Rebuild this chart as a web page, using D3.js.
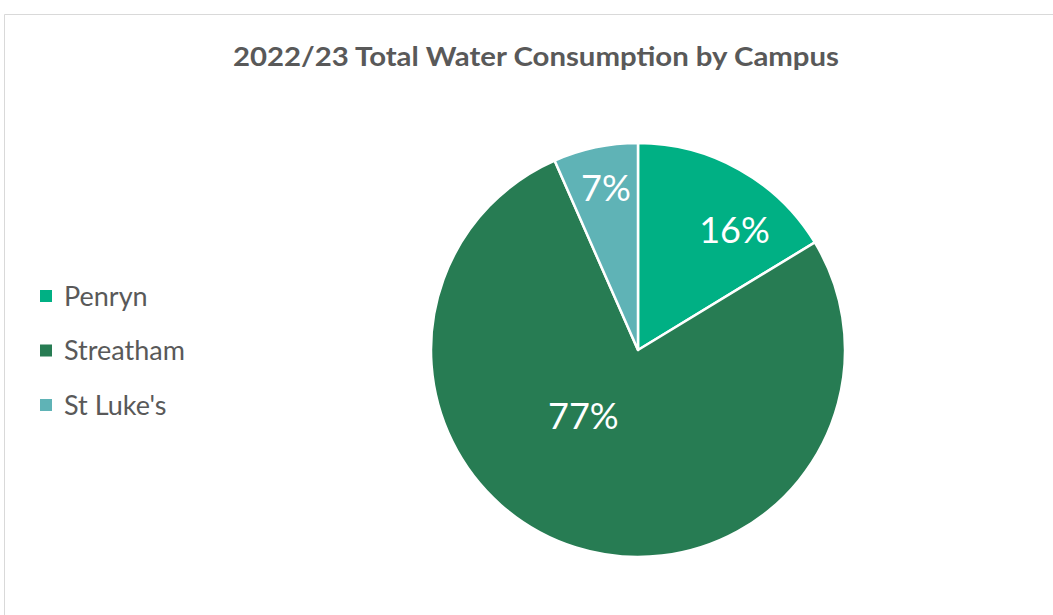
<!DOCTYPE html>
<html><head><meta charset="utf-8">
<script src="https://cdn.jsdelivr.net/npm/d3@7"></script>
<style>
html,body{margin:0;padding:0;background:#fff;}
svg{display:block;}
text{font-family:Lato,"Open Sans",sans-serif;}
</style></head>
<body>
<svg id="c" width="1053" height="615"></svg>
<script>
const title = "2022/23 Total Water Consumption by Campus";
const categories = ["Penryn", "Streatham", "St Luke's"];
const values = [16.3, 77.1, 6.6];
const colors = ["#00b084", "#277c53", "#5fb3b6"];

const svg = d3.select("#c");
// chart border
svg.append("path")
  .attr("d", "M4.5,615 L4.5,14.5 L1053,14.5")
  .attr("fill", "none").attr("stroke", "#d9d9d9").attr("stroke-width", 1);

svg.append("text").attr("x", 536).attr("y", 66)
  .attr("text-anchor", "middle").attr("font-size", 27).attr("font-weight", "bold")
  .attr("textLength", 606).attr("lengthAdjust", "spacingAndGlyphs")
  .attr("fill", "#595959").text(title);

const cx = 638, cy = 350, r = 207;
const total = d3.sum(values);
const pie = d3.pie().sort(null).value(d => d)(values);
const arc = d3.arc().innerRadius(0).outerRadius(r);
const g = svg.append("g").attr("transform", `translate(${cx},${cy})`);
g.selectAll("path.s").data(pie).join("path").attr("class", "s")
  .attr("d", arc).attr("fill", (d, i) => colors[i])
  .attr("stroke", "#fff").attr("stroke-width", 2.5).attr("stroke-linejoin", "round");

// label placement (Excel best-fit approximation): angle shift (deg) and radius fraction
function labelPlace(d) {
  const frac = d.value / total;
  if (frac > 0.5) return [22, 0.415];
  if (frac < 0.1) return [0.7, 0.8];
  return [9.4, 0.745];
}
g.selectAll("text.l").data(pie).join("text").attr("class", "l")
  .attr("transform", d => {
    const [shift, rf] = labelPlace(d);
    const a = (d.startAngle + d.endAngle) / 2 + shift * Math.PI / 180;
    const lr = r * rf;
    return `translate(${Math.sin(a) * lr},${-Math.cos(a) * lr})`;
  })
  .attr("text-anchor", "middle").attr("dy", "0.36em")
  .attr("font-size", 36).attr("fill", "#fff")
  .text(d => Math.round(d.value / total * 100) + "%");

const leg = svg.append("g");
const ly = d3.scalePoint().domain(categories).range([296, 405]);
categories.forEach((c, i) => {
  leg.append("rect").attr("x", 40).attr("y", ly(c) - 6).attr("width", 12).attr("height", 12)
    .attr("fill", colors[i]);
  leg.append("text").attr("x", 64).attr("y", ly(c)).attr("dy", "0.36em")
    .attr("font-size", 27).attr("fill", "#595959").text(c);
});
</script>
</body></html>
